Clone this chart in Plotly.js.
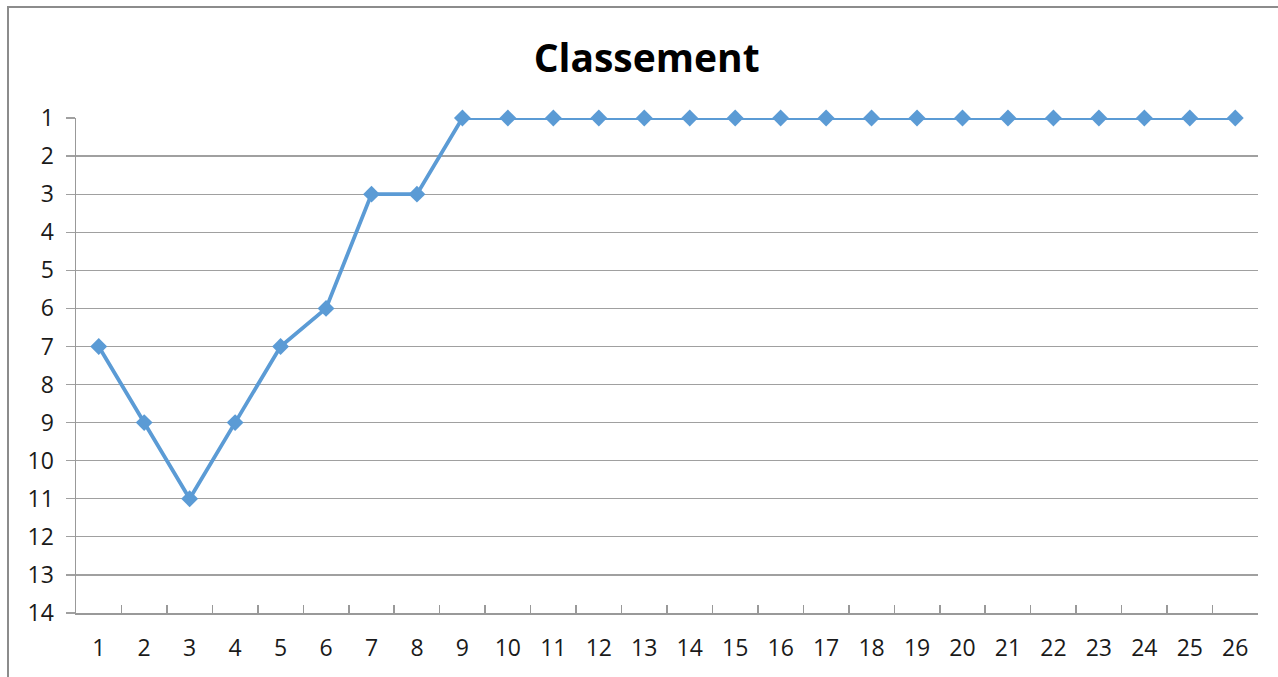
<!DOCTYPE html>
<html>
<head>
<meta charset="utf-8">
<script src="https://cdn.plot.ly/plotly-3.0.1.min.js"></script>
<style>
  html, body { margin: 0; padding: 0; background: #fff; }
  #wrap { position: relative; width: 1278px; height: 677px; overflow: hidden; }
  #chart { width: 1278px; height: 677px; }
  #frame { position: absolute; left: 7px; top: 6px; right: -4px; bottom: -4px;
           border-left: 2px solid #8c8c8c; border-top: 2px solid #8c8c8c; pointer-events: none; }
</style>
</head>
<body>
<div id="wrap">
  <div id="chart"></div>
  <div id="frame"></div>
</div>
<script>
const matches = ["1","2","3","4","5","6","7","8","9","10","11","12","13","14","15","16","17","18","19","20","21","22","23","24","25","26"];
const ranking = [7,9,11,9,7,6,3,3,1,1,1,1,1,1,1,1,1,1,1,1,1,1,1,1,1,1];
const rankTicks = [1,2,3,4,5,6,7,8,9,10,11,12,13,14];

const trace = {
  x: matches,
  y: ranking,
  type: 'scatter',
  mode: 'lines+markers',
  cliponaxis: false,
  line: { color: '#5b9bd5', width: 3.8 },
  marker: { symbol: 'diamond', size: 13, color: '#5b9bd5' },
  hoverinfo: 'x+y'
};

const tickFont = { family: 'Open Sans, Liberation Sans, sans-serif', size: 23, color: '#1a1a1a' };

const layout = {
  width: 1278, height: 677,
  margin: { l: 76, r: 20, t: 118, b: 64 },
  paper_bgcolor: '#ffffff',
  plot_bgcolor: '#ffffff',
  showlegend: false,
  font: tickFont,
  title: {
    text: '<b>Classement</b>',
    font: { family: 'Open Sans, Liberation Sans, sans-serif', size: 39, color: '#000' },
    x: 0.506, xanchor: 'center',
    y: 0.914, yanchor: 'middle'
  },
  xaxis: {
    type: 'category',
    categoryorder: 'array', categoryarray: matches,
    range: [-0.5, 25.5],
    showgrid: false,
    showline: true, linecolor: '#999999', linewidth: 1.5,
    ticks: 'inside', tickson: 'boundaries', ticklen: 8, tickcolor: '#999999', tickwidth: 1.5,
    tickfont: tickFont,
    ticklabelstandoff: 14,
    zeroline: false, fixedrange: true
  },
  yaxis: {
    range: [14, 1],
    tickvals: rankTicks,
    showgrid: true, gridcolor: '#a0a0a0', gridwidth: 1.3,
    showline: true, linecolor: '#999999', linewidth: 1.5,
    ticks: 'outside', ticklen: 9, tickcolor: '#a0a0a0', tickwidth: 1.3,
    tickfont: tickFont,
    ticklabelstandoff: 7,
    zeroline: false, fixedrange: true
  }
};

Plotly.newPlot('chart', [trace], layout, { displayModeBar: false, staticPlot: true });
</script>
</body>
</html>
